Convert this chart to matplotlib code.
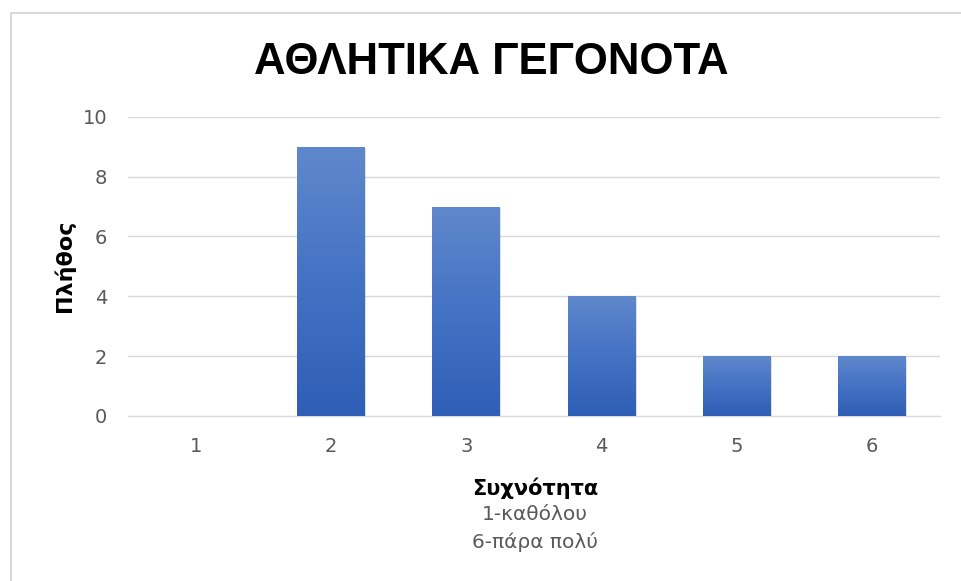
import numpy as np
import matplotlib
matplotlib.use('Agg')
import matplotlib.pyplot as plt
from matplotlib.patches import Rectangle

categories = ['1', '2', '3', '4', '5', '6']
counts = [0, 9, 7, 4, 2, 2]

title = 'ΑΘΛΗΤΙΚΑ ΓΕΓΟΝΟΤΑ'
ylabel = 'Πλήθος'
xlabel_lines = ['Συχνότητα', '1-καθόλου', '6-πάρα πολύ']

plt.rcParams['font.family'] = ['DejaVu Sans']

fig = plt.figure(figsize=(9.62, 5.81), dpi=100)
ax = fig.add_axes([0.133, 0.284, 0.844, 0.515])

# outer chart frame
fig.patches.append(Rectangle((11 / 962, -0.01), 1.0, 1 - 13 / 581 + 0.01,
                             transform=fig.transFigure, fill=False,
                             edgecolor='#d9d9d9', linewidth=1.5))

x = np.arange(len(categories))
bars = ax.bar(x, counts, width=0.5, color='#4472c4', zorder=2)

# vertical gradient inside each bar
grad = np.linspace(0, 1, 256).reshape(-1, 1)
cmap = matplotlib.colors.LinearSegmentedColormap.from_list(
    'g', ['#2e5eb6', '#4472c4', '#6088cc'])
for b in bars:
    if b.get_height() <= 0:
        continue
    bx, bw, bh = b.get_x(), b.get_width(), b.get_height()
    # soft shadow
    ax.add_patch(Rectangle((bx + 0.01, -0.06), bw, bh, facecolor='#000000',
                           alpha=0.12, edgecolor='none', zorder=1.5))
    im = ax.imshow(grad, cmap=cmap, aspect='auto', origin='lower',
                   extent=(bx, bx + bw, 0, bh), zorder=3)
    im.set_clip_path(b)

ax.set_xlim(-0.5, len(categories) - 0.5)
ax.set_ylim(0, 10)
ax.set_yticks(range(0, 11, 2))
ax.set_xticks(x)
ax.set_xticklabels(categories)
ax.grid(axis='y', color='#d9d9d9', linewidth=1, zorder=0)
ax.set_axisbelow(True)
for s in ['top', 'right', 'left']:
    ax.spines[s].set_visible(False)
ax.spines['bottom'].set_color('#d9d9d9')
ax.tick_params(length=0, labelsize=14, colors='#595959')
ax.tick_params(axis='x', pad=15)
ax.tick_params(axis='y', pad=15)

fig.text(491 / 962, 1 - 63 / 581, title, ha='center', va='center',
         fontsize=31.5, fontweight='bold', color='black',
         family=['Liberation Sans', 'DejaVu Sans'])
fig.text(64 / 962, 1 - 266 / 581, ylabel, ha='center', va='center',
         rotation=90, fontsize=16, fontweight='bold', color='black')
fig.text(0.556, 1 - 488 / 581, xlabel_lines[0], ha='center', va='center',
         fontsize=15, fontweight='bold', color='black')
fig.text(0.556, 1 - 515 / 581, xlabel_lines[1], ha='center', va='center',
         fontsize=14.5, color='#595959')
fig.text(0.556, 1 - 542 / 581, xlabel_lines[2], ha='center', va='center',
         fontsize=14.5, color='#595959')

fig.savefig('out.png', dpi=100)
